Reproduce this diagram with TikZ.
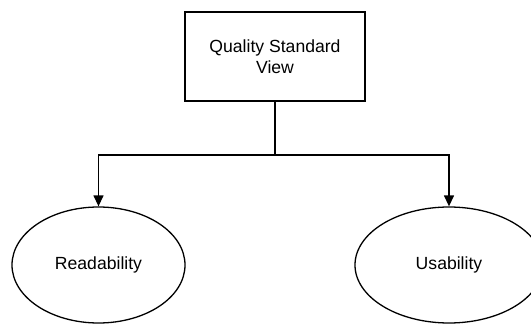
\documentclass[tikz,border=0pt]{standalone}
\usepackage{fontspec}
\setmainfont{Liberation Sans}
\usetikzlibrary{arrows.meta,shapes.geometric}

\tikzset{
	viewbox/.style={draw, line width=1.3pt, minimum width=180pt, minimum height=89pt, align=center, inner sep=0pt},
	attr/.style={draw, ellipse, line width=1.3pt, minimum height=116pt, inner sep=0pt},
	link/.style={line width=1.3pt, -{Triangle[length=11pt,width=10pt]}}
}

\begin{document}
\begin{tikzpicture}[x=1pt, y=-1pt, font=\fontsize{17.6pt}{21pt}\selectfont]
	\useasboundingbox (0,0) rectangle (531,324);
	\node[viewbox] (qsv) at (275,56.5) {Quality Standard\\View};
	\node[attr, minimum width=173pt] (read) at (98.5,265) {Readability};
	\node[attr, minimum width=188pt] (usab) at (449,265) {Usability};
	\coordinate (split) at (275,155);
	%% connectors
	\draw[line width=1.3pt] (qsv.south) -- (split);
	\draw[link] (split) -| (read.north);
	\draw[link] (split) -| (usab.north);
\end{tikzpicture}
\end{document}
